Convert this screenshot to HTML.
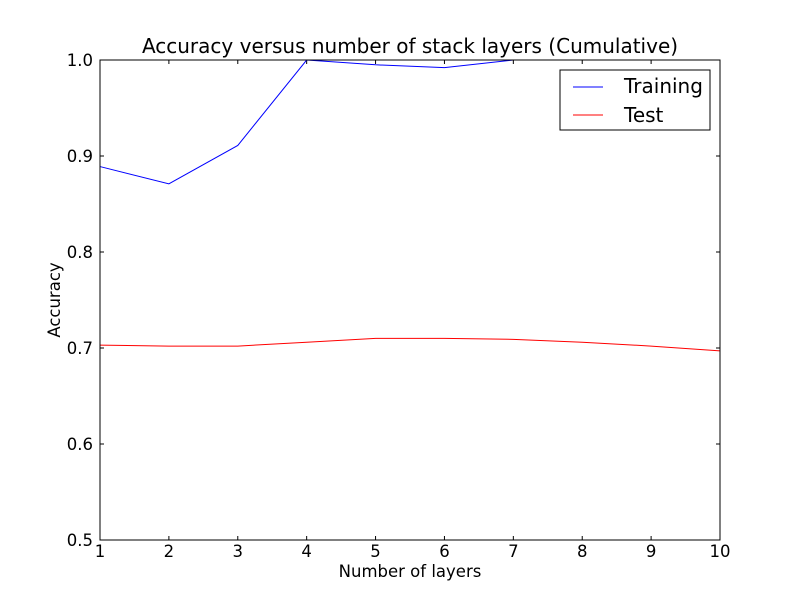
<!DOCTYPE html>
<html><head><meta charset="utf-8"><style>
body{margin:0;background:#fff;}
svg text{font-family:"DejaVu Sans","Liberation Sans",sans-serif;}
</style></head><body>
<svg id="chart" width="800" height="600">
<rect width="800" height="600" fill="#fff"/>
<text x="410" y="53" text-anchor="middle" font-size="20">Accuracy versus number of stack layers (Cumulative)</text>
<text x="410" y="577" text-anchor="middle" font-size="16.5">Number of layers</text>
<text x="60" y="300" text-anchor="middle" font-size="16.5" transform="rotate(-90 60 300)">Accuracy</text>
<g id="ticks"></g>
<g id="lines"></g>
<rect x="100" y="60" width="620" height="480" fill="none" stroke="#000"/>
<g>
<rect x="560" y="70" width="150" height="60" fill="#fff" stroke="#000"/>
<line x1="573" y1="87" x2="603" y2="87" stroke="#0000ff"/>
<text x="624" y="93" font-size="20">Training</text>
<line x1="573" y1="115" x2="603" y2="115" stroke="#ff0000"/>
<text x="624" y="122" font-size="20">Test</text>
</g>
</svg>
<script>
const layers=[1,2,3,4,5,6,7,8,9,10];
const training=[0.889,0.871,0.911,1.0,0.995,0.992,1.0,1.0,1.0,1.0];
const test=[0.703,0.702,0.702,0.706,0.710,0.710,0.709,0.706,0.702,0.697];
const xTicks=[1,2,3,4,5,6,7,8,9,10];
const yTicks=[0.5,0.6,0.7,0.8,0.9,1.0];
const NS="http://www.w3.org/2000/svg";
const X=v=>100+(v-1)/9*620;
const Y=v=>540-(v-0.5)/0.5*480;
const tg=document.getElementById('ticks');
function mk(tag,attrs,parent){const e=document.createElementNS(NS,tag);for(const k in attrs)e.setAttribute(k,attrs[k]);parent.appendChild(e);return e;}
xTicks.forEach(t=>{
 const x=X(t);
 const a=mk('line',{x1:x,y1:540,x2:x,y2:536,stroke:'#000'},tg);
 
 
 const b=mk('line',{x1:x,y1:60,x2:x,y2:64,stroke:'#000'},tg);
 
 
 const l=mk('text',{x:x,y:557,'text-anchor':'middle','font-size':16.5},tg);
 l.textContent=t;
 
 
});
yTicks.forEach(t=>{
 const y=Y(t);
 const a=mk('line',{x1:100,y1:y,x2:104,y2:y,stroke:'#000'},tg);
 
 
 const b=mk('line',{x1:716,y1:y,x2:720,y2:y,stroke:'#000'},tg);
 
 
 const l=mk('text',{x:93,y:y+6,'text-anchor':'end','font-size':16.5},tg);
 l.textContent=t.toFixed(1);
 
 
});
const lg=document.getElementById('lines');
const p1=mk('polyline',{points:layers.map((v,i)=>X(v)+','+Y(training[i])).join(' '),fill:'none',stroke:'#0000ff'},lg);


const p2=mk('polyline',{points:layers.map((v,i)=>X(v)+','+Y(test[i])).join(' '),fill:'none',stroke:'#ff0000'},lg);


</script>
</body></html>
